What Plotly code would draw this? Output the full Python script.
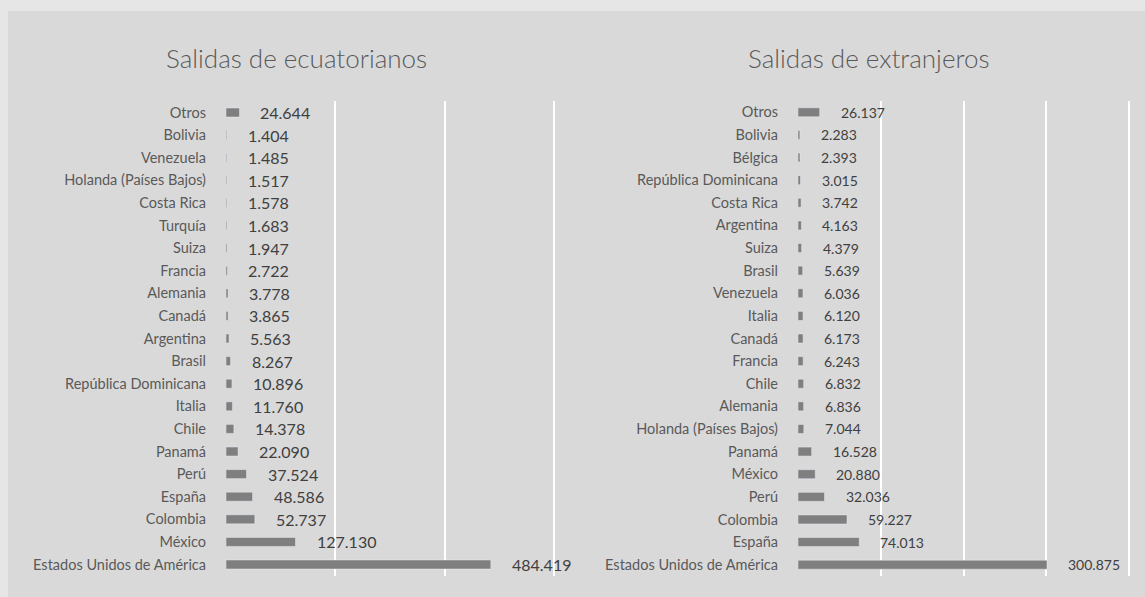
import plotly.graph_objects as go

W, H = 1145, 597

cat_ecu = ["Otros", "Bolivia", "Venezuela", "Holanda (Países Bajos)", "Costa Rica", "Turquía",
           "Suiza", "Francia", "Alemania", "Canadá", "Argentina", "Brasil", "República Dominicana",
           "Italia", "Chile", "Panamá", "Perú", "España", "Colombia", "México",
           "Estados Unidos de América"]
val_ecu = [24644, 1404, 1485, 1517, 1578, 1683, 1947, 2722, 3778, 3865, 5563, 8267, 10896,
           11760, 14378, 22090, 37524, 48586, 52737, 127130, 484419]

cat_ext = ["Otros", "Bolivia", "Bélgica", "República Dominicana", "Costa Rica", "Argentina",
           "Suiza", "Brasil", "Venezuela", "Italia", "Canadá", "Francia", "Chile", "Alemania",
           "Holanda (Países Bajos)", "Panamá", "México", "Perú", "Colombia", "España",
           "Estados Unidos de América"]
val_ext = [26137, 2283, 2393, 3015, 3742, 4163, 4379, 5639, 6036, 6120, 6173, 6243, 6832, 6836,
           7044, 16528, 20880, 32036, 59227, 74013, 300875]

title_ecu = "Salidas de ecuatorianos"
title_ext = "Salidas de extranjeros"

FONT = "Lato"
BAR = "#7f7f7f"
TXT = "#595959"
VAL = "#404040"


def fmt(v):
    return f"{v:,}".replace(",", ".")


fig = go.Figure()
fig.add_trace(go.Bar(x=val_ecu, y=cat_ecu, orientation="h", marker_color=BAR,
                     width=0.4, xaxis="x", yaxis="y", hoverinfo="x+y"))
fig.add_trace(go.Bar(x=val_ext, y=cat_ext, orientation="h", marker_color=BAR,
                     width=0.4, xaxis="x2", yaxis="y2", hoverinfo="x+y"))

annotations = []
for c, v in zip(cat_ecu, val_ecu):
    annotations.append(dict(x=v, y=c, xref="x", yref="y", text=fmt(v), showarrow=False,
                            xanchor="left", xshift=19, font=dict(family=FONT, size=16, color=VAL)))
for c, v in zip(cat_ext, val_ext):
    annotations.append(dict(x=v, y=c, xref="x2", yref="y2", text=fmt(v), showarrow=False,
                            xanchor="left", xshift=19, font=dict(family=FONT, size=14, color=VAL)))

annotations.append(dict(x=296 / W, y=1 - 58 / H, xref="paper", yref="paper", text=title_ecu,
                        showarrow=False, xanchor="center", yanchor="middle",
                        font=dict(family=FONT, size=26, color=TXT, weight=300)))
annotations.append(dict(x=868 / W, y=1 - 58 / H, xref="paper", yref="paper", text=title_ext,
                        showarrow=False, xanchor="center", yanchor="middle",
                        font=dict(family=FONT, size=26, color=TXT, weight=300)))

ydom = [(H - 576) / H, (H - 101) / H]
xcommon = dict(showticklabels=False, showgrid=True, gridcolor="white", gridwidth=1.5,
               zeroline=False, showline=False, ticks="", fixedrange=True)
ycommon = dict(autorange="reversed", showgrid=False, zeroline=False, showline=False,
               ticks="", ticklabelstandoff=19, tickfont=dict(family=FONT, size=14.5, color=TXT),
               domain=ydom, type="category")

fig.update_layout(
    width=W, height=H,
    margin=dict(l=0, r=0, t=0, b=0),
    paper_bgcolor="#e6e6e6",
    plot_bgcolor="rgba(0,0,0,0)",
    showlegend=False,
    font=dict(family=FONT, color=TXT),
    xaxis=dict(domain=[226 / W, 555.1 / W], range=[0, 602000],
               tickvals=[200000, 400000, 600000], anchor="y", **xcommon),
    yaxis=dict(anchor="x", **ycommon),
    xaxis2=dict(domain=[798 / W, 1130.7 / W], range=[0, 402000],
                tickvals=[100000, 200000, 300000, 400000], anchor="y2", **xcommon),
    yaxis2=dict(anchor="x2", **ycommon),
    annotations=annotations,
    shapes=[dict(type="rect", xref="paper", yref="paper", x0=8 / W, x1=1.01,
                 y0=-0.01, y1=1 - 11 / H, fillcolor="#d9d9d9", line=dict(width=0),
                 layer="below")],
)

fig.write_html("out.html", config={"displayModeBar": False},
               post_script="document.body.style.margin='0';document.body.style.background='#e6e6e6';")
